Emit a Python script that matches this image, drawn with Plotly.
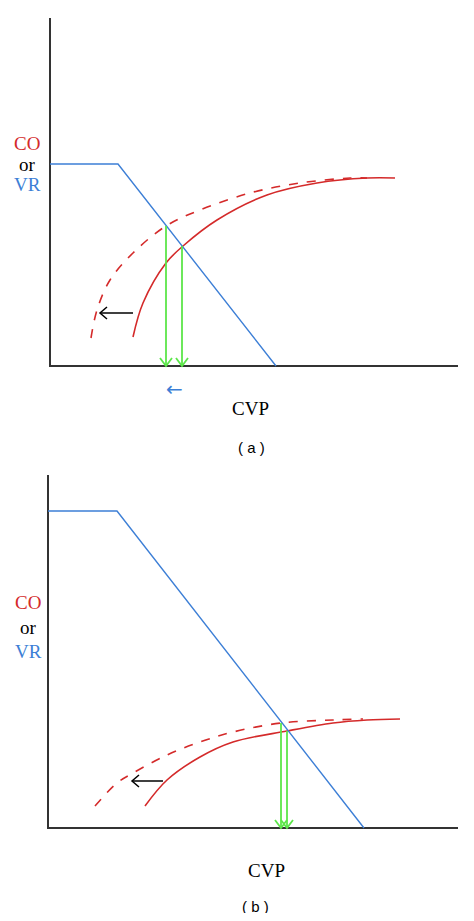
import plotly.graph_objects as go

# everything in page pixel coordinates (x right, y down)
RED = "#d42a2a"
BLUE = "#3d7fd6"
GREEN = "#5ce64a"

# panel (a)
a_axis_x = [50, 50, 458]
a_axis_y = [18, 366, 366]
a_vr_x = [50, 118, 276]
a_vr_y = [164, 164, 366]
a_co_x = [133, 143, 166, 183, 217, 267, 317, 367, 395]
a_co_y = [337, 303, 263, 246, 220, 195, 183, 178, 178]
a_co2_x = [91, 97, 110, 133, 166, 200, 250, 300, 350, 367]
a_co2_y = [338, 310, 280, 253, 226, 210, 193, 183, 178, 178]
a_green = [(166, 226, 366), (182, 246, 366)]
a_shift = (133, 100, 313)

# panel (b)
b_axis_x = [48, 48, 458]
b_axis_y = [475, 828, 828]
b_vr_x = [48, 117, 364]
b_vr_y = [511, 511, 828]
b_co_x = [145, 167, 200, 233, 287, 333, 367, 400]
b_co_y = [806, 780, 757, 742, 731, 723, 720, 719]
b_co2_x = [95, 117, 133, 167, 200, 233, 281, 333, 363]
b_co2_y = [806, 783, 773, 755, 742, 732, 723, 720, 719]
b_green = [(281, 723, 828), (287, 731, 828)]
b_shift = (163, 132, 781)

fig = go.Figure()


def line(x, y, color, width=1.5, dash="solid", shape="linear"):
    fig.add_trace(go.Scatter(x=x, y=y, mode="lines", hoverinfo="skip",
                             line=dict(color=color, width=width, dash=dash,
                                       shape=shape, smoothing=1.0)))


def down_arrow(x, y0, y1):
    line([x, x], [y0, y1], GREEN, 1.8)
    line([x - 6, x, x + 6], [y1 - 8, y1, y1 - 8], GREEN, 1.8)


def left_arrow(x0, x1, y):
    line([x0, x1], [y, y], "black", 1.5)
    line([x1 + 7, x1, x1 + 7], [y - 6, y, y + 6], "black", 1.5)


for ax_x, ax_y, vr_x, vr_y, co_x, co_y, co2_x, co2_y, greens, shift in [
    (a_axis_x, a_axis_y, a_vr_x, a_vr_y, a_co_x, a_co_y, a_co2_x, a_co2_y, a_green, a_shift),
    (b_axis_x, b_axis_y, b_vr_x, b_vr_y, b_co_x, b_co_y, b_co2_x, b_co2_y, b_green, b_shift),
]:
    line(ax_x, ax_y, "#333333", 2)
    line(co2_x, co2_y, RED, 1.6, "dash", "spline")
    line(co_x, co_y, RED, 1.6, "solid", "spline")
    line(vr_x, vr_y, BLUE, 1.4)
    for gx, gy0, gy1 in greens:
        down_arrow(gx, gy0, gy1)
    left_arrow(*shift)

serif = "Liberation Serif"
texts = [
    (27, 143, "CO", RED, 19, serif),
    (27, 164, "or", "black", 19, serif),
    (27, 184, "VR", BLUE, 19, serif),
    (174, 389, "←", BLUE, 20, "DejaVu Sans"),
    (250, 408, "CVP", "black", 19, serif),
    (251, 447, "( a )", "black", 15, "Liberation Sans"),
    (28, 602, "CO", RED, 19, serif),
    (28, 627, "or", "black", 19, serif),
    (28, 651, "VR", BLUE, 19, serif),
    (266, 870, "CVP", "black", 19, serif),
    (255, 906, "( b )", "black", 15, "Liberation Sans"),
]
for x, y, t, c, s, f in texts:
    fig.add_annotation(x=x, y=y, text=t, showarrow=False,
                       font=dict(color=c, size=s, family=f))

# page has an 8px body margin, so the figure starts at (8, 8)
fig.update_xaxes(range=[8, 466], visible=False)
fig.update_yaxes(range=[913, 8], visible=False)
fig.update_layout(width=458, height=905, margin=dict(l=0, r=0, t=0, b=0),
                  showlegend=False, plot_bgcolor="white", paper_bgcolor="white")

fig.write_html("out.html", config={"displayModeBar": False})
